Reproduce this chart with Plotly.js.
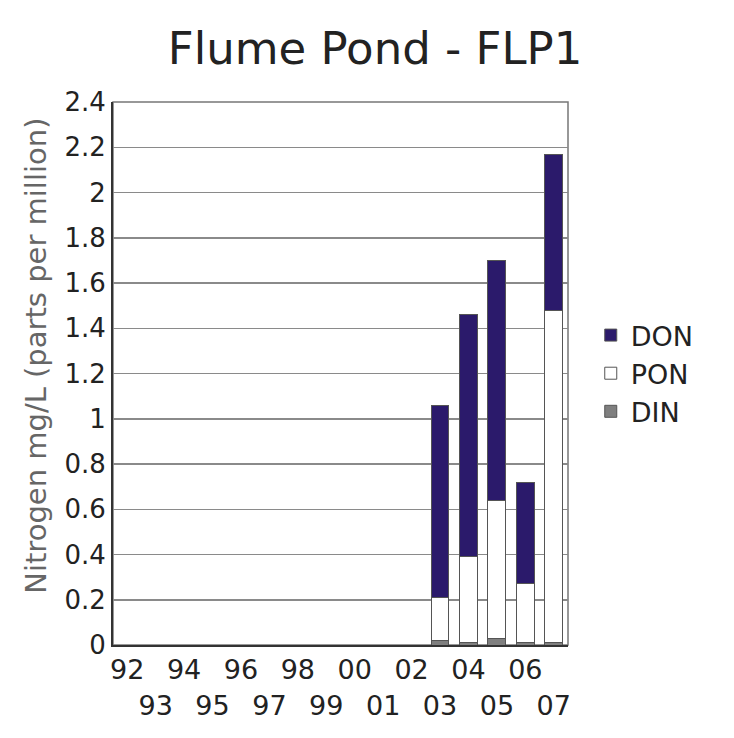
<!DOCTYPE html>
<html>
<head>
<meta charset="utf-8">
<script src="https://cdn.plot.ly/plotly-3.0.1.min.js"></script>
<style>html,body{margin:0;padding:0;background:#fff;}#chart{width:734px;height:738px;}</style>
</head>
<body>
<div id="chart"></div>
<script>
const years = ["92","93","94","95","96","97","98","99","00","01","02","03","04","05","06","07"];
const dinValues = [null,null,null,null,null,null,null,null,null,null,null,0.02,0.01,0.03,0.01,0.01];
const ponValues = [null,null,null,null,null,null,null,null,null,null,null,0.19,0.38,0.61,0.26,1.47];
const donValues = [null,null,null,null,null,null,null,null,null,null,null,0.85,1.07,1.06,0.45,0.69];
const tickLabels = years.map((y, i) => i % 2 === 0 ? y : "<br>" + y);

const font = "DejaVu Sans, Liberation Sans, sans-serif";
const outline = {color: "#555", width: 1};

const data = [
  {type: "bar", name: "DIN", x: years, y: dinValues, marker: {color: "#7f7f7f", line: outline}},
  {type: "bar", name: "PON", x: years, y: ponValues, marker: {color: "#ffffff", line: outline}},
  {type: "bar", name: "DON", x: years, y: donValues, marker: {color: "#2b1a6b", line: outline}}
];

const layout = {
  width: 734, height: 738,
  paper_bgcolor: "#ffffff", plot_bgcolor: "#ffffff",
  margin: {l: 113, r: 166, t: 102, b: 93},
  barmode: "stack", bargap: 0.37,
  showlegend: true,
  font: {family: font, color: "#222"},
  title: {text: "Flume Pond - FLP1", font: {family: font, size: 45, color: "#222"}, x: 0.511, xanchor: "center", y: 0.935, yanchor: "middle"},
  xaxis: {
    type: "category", tickvals: years, ticktext: tickLabels, tickangle: 0,
    tickfont: {size: 27, color: "#222"}, ticks: "", showgrid: false,
    showline: true, linecolor: "#333", linewidth: 2, zeroline: false
  },
  yaxis: {
    range: [0, 2.4], dtick: 0.2, tick0: 0,
    tickfont: {size: 26, color: "#222"}, ticks: "", ticklen: 0,
    showgrid: true, gridcolor: "#8a8a8a", gridwidth: 1.5,
    showline: true, linecolor: "#333", linewidth: 2, zeroline: false
  },
  annotations: [
    {text: "Nitrogen mg/L (parts per million)", textangle: -90, xref: "paper", yref: "paper",
     x: -0.17, y: 0.532, xanchor: "center", yanchor: "middle", showarrow: false,
     font: {family: font, size: 29, color: "#666"}}
  ],
  legend: {
    x: 1.05, xanchor: "left", y: 0.615, yanchor: "top",
    traceorder: "reversed", font: {family: font, size: 27, color: "#222"},
    bgcolor: "rgba(0,0,0,0)", itemwidth: 30
  },
  shapes: [
    {type: "rect", xref: "paper", yref: "paper", x0: 0, x1: 1, y0: 0, y1: 1, line: {color: "#777", width: 1.5}, layer: "below"}
  ]
};

Plotly.newPlot("chart", data, layout, {displayModeBar: false, staticPlot: true});
</script>
</body>
</html>
